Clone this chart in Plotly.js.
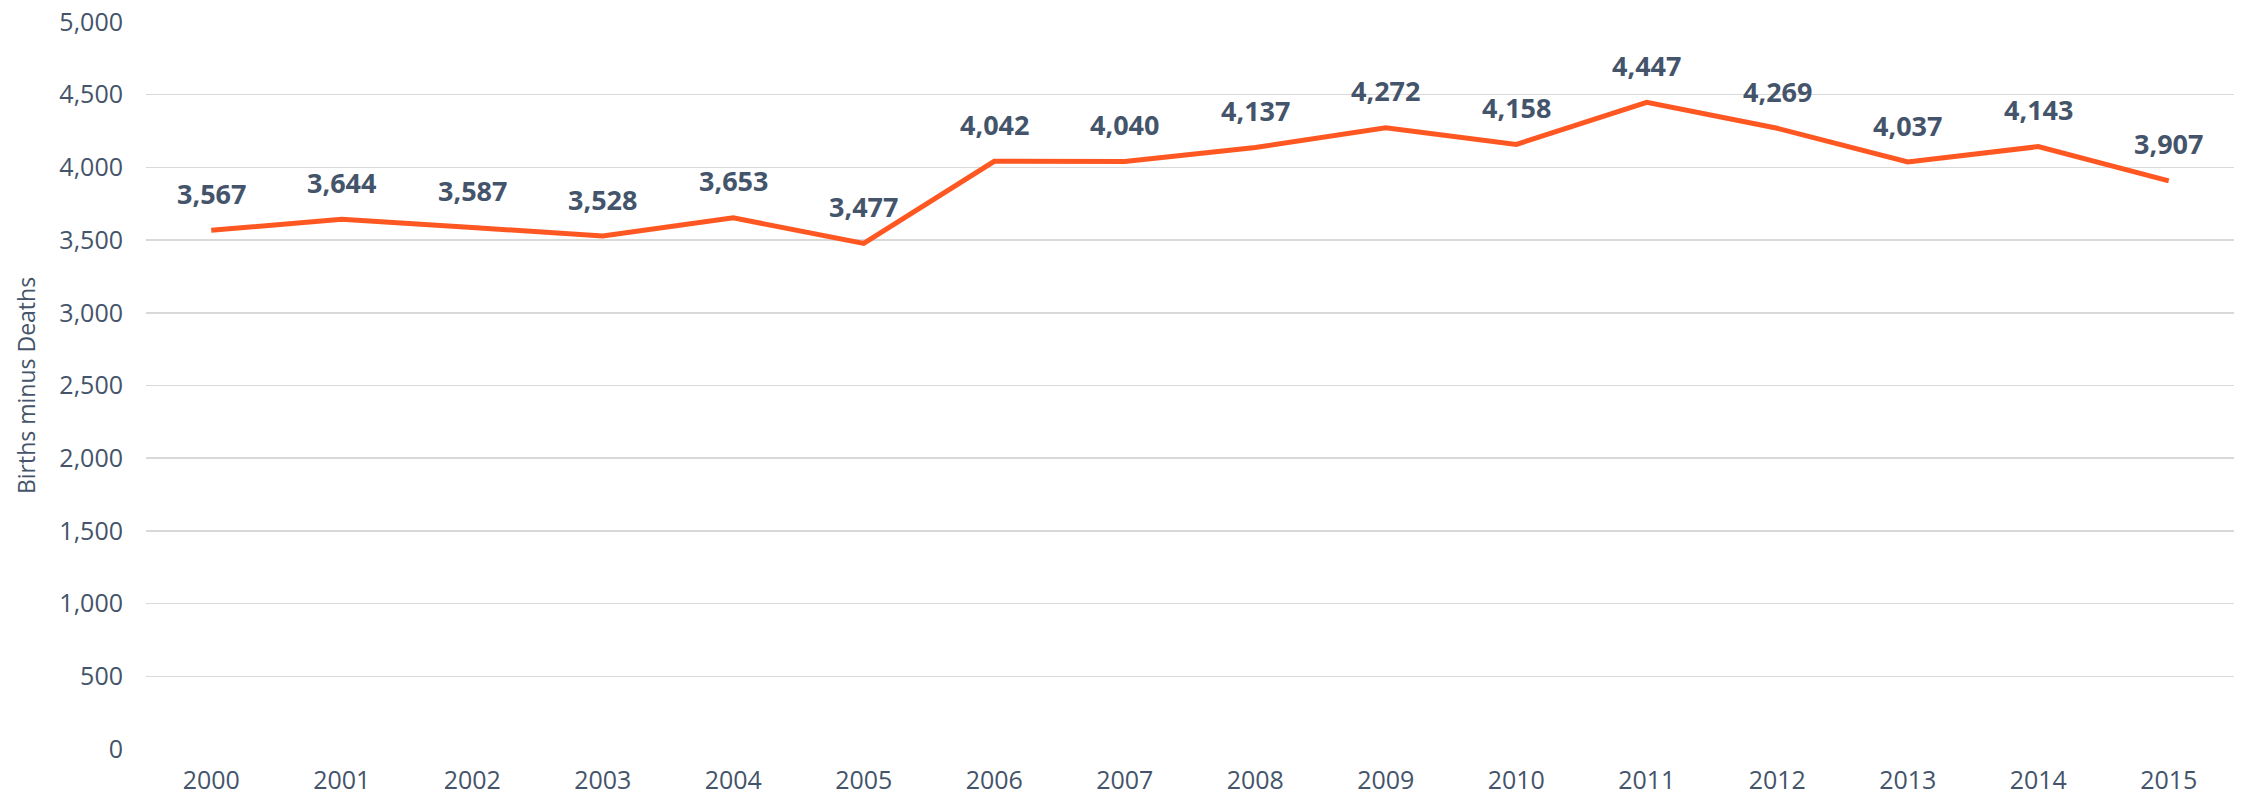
<!DOCTYPE html>
<html>
<head>
<meta charset="utf-8">
<script src="https://cdn.plot.ly/plotly-3.0.1.min.js"></script>
<style>html,body{margin:0;padding:0;background:#fff;}#chart{width:2242px;height:801px;}</style>
</head>
<body>
<div id="chart"></div>
<script>
const years = ['2000','2001','2002','2003','2004','2005','2006','2007','2008','2009','2010','2011','2012','2013','2014','2015'];
const birthsMinusDeaths = [3567,3644,3587,3528,3653,3477,4042,4040,4137,4272,4158,4447,4269,4037,4143,3907];
const yTickVals = [0,500,1000,1500,2000,2500,3000,3500,4000,4500,5000];
const yTitle = 'Births minus Deaths';

const textColor = '#44546A';
const fmt = v => v.toLocaleString('en-US');

const trace = {
  x: years,
  y: birthsMinusDeaths,
  type: 'scatter',
  mode: 'lines',
  line: {color: '#FF5722', width: 5},
  hoverinfo: 'x+y'
};

const annotations = years.map((yr, i) => ({
  x: i,
  y: birthsMinusDeaths[i],
  xref: 'x', yref: 'y',
  text: '<b>' + fmt(birthsMinusDeaths[i]) + '</b>',
  showarrow: false,
  yanchor: 'middle',
  xanchor: 'center',
  yshift: 37,
  font: {family: 'Open Sans, sans-serif', size: 27, color: textColor}
}));

const layout = {
  width: 2242,
  height: 801,
  margin: {l: 146, r: 8, t: 22, b: 52},
  paper_bgcolor: '#ffffff',
  plot_bgcolor: '#ffffff',
  showlegend: false,
  font: {family: 'Open Sans, sans-serif', color: textColor},
  xaxis: {
    type: 'category',
    range: [-0.5, 15.5],
    showgrid: false,
    showline: false,
    zeroline: false,
    ticks: '',
    ticklabelstandoff: 14,
    tickfont: {size: 25, color: textColor}
  },
  yaxis: {
    range: [0, 5000],
    tickvals: yTickVals,
    ticktext: yTickVals.map(fmt),
    showgrid: true,
    gridcolor: '#D9D9D9',
    gridwidth: 1.5,
    zeroline: false,
    showline: false,
    ticks: '',
    ticklabelstandoff: 22,
    tickfont: {size: 25, color: textColor},
    title: {text: yTitle, font: {size: 23, color: textColor}, standoff: 17}
  },
  annotations: annotations
};

Plotly.newPlot('chart', [trace], layout, {displayModeBar: false, staticPlot: true});
</script>
</body>
</html>
